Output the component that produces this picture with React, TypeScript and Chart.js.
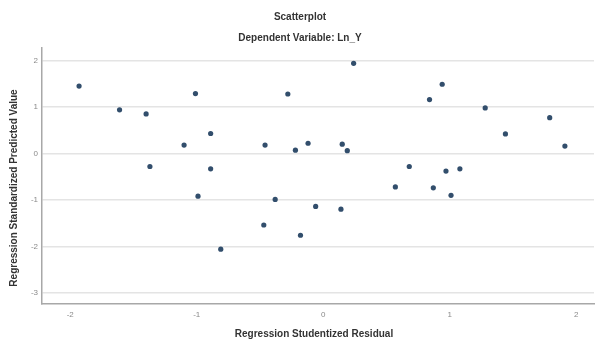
import React, { useEffect, useRef } from "react";
import { Chart, registerables } from "chart.js";

Chart.register(...registerables);

const chartTitle = "Scatterplot";
const chartSubtitle = "Dependent Variable: Ln_Y";
const xAxisTitle = "Regression Studentized Residual";
const yAxisTitle = "Regression Standardized Predicted Value";

const xTicks = [-2, -1, 0, 1, 2];
const yTicks = [-3, -2, -1, 0, 1, 2];

const residuals = [
  -1.93, -1.61, -1.4, -1.37, -1.1, -1.01, -0.99, -0.89, -0.89, -0.81,
  -0.47, -0.46, -0.38, -0.28, -0.22, -0.18, -0.12, -0.06, 0.14, 0.15,
  0.19, 0.24, 0.57, 0.68, 0.84, 0.87, 0.94, 0.97, 1.01, 1.08,
  1.28, 1.44, 1.79, 1.91,
];
const predicted = [
  1.45, 0.94, 0.85, -0.28, 0.18, 1.29, -0.92, 0.43, -0.33, -2.06,
  -1.54, 0.18, -0.99, 1.28, 0.07, -1.76, 0.22, -1.14, -1.2, 0.2,
  0.06, 1.94, -0.72, -0.28, 1.16, -0.74, 1.49, -0.38, -0.9, -0.33,
  0.98, 0.42, 0.77, 0.16,
];

const FONT = "'Liberation Sans', Arial, sans-serif";

const titlesPlugin = {
  id: "spssTitles",
  afterDraw(chart: any) {
    const ctx = chart.ctx;
    ctx.save();
    ctx.fillStyle = "#333333";
    ctx.textAlign = "center";
    ctx.textBaseline = "middle";
    ctx.font = `bold 10px ${FONT}`;
    ctx.fillText(chartTitle, 300, 17);
    ctx.fillText(chartSubtitle, 300, 38);
    ctx.fillText(xAxisTitle, 314, 334);
    ctx.translate(14, 188);
    ctx.rotate(-Math.PI / 2);
    ctx.fillText(yAxisTitle, 0, 0);
    ctx.restore();
  },
};

export default function App() {
  const ref = useRef<HTMLCanvasElement>(null);
  useEffect(() => {
    if (!ref.current) return;
    const points = residuals.map((x, i) => ({ x, y: predicted[i] }));
    const chart = new Chart(ref.current, {
      type: "scatter",
      data: {
        datasets: [
          {
            data: points,
            backgroundColor: "#324e6c",
            borderColor: "#324e6c",
            pointRadius: 2.6,
            borderWidth: 0,
          },
        ],
      },
      options: {
        animation: false,
        responsive: false,
        devicePixelRatio: 1,
        layout: { padding: { top: 48, right: 1, left: 0, bottom: 0 } },
        plugins: {
          legend: { display: false },
          tooltip: { enabled: false },
          title: { display: false },
        },
        scales: {
          x: {
            type: "linear",
            min: -2.223,
            max: 2.14,
            afterBuildTicks: (scale: any) => {
              scale.ticks = xTicks.map((v) => ({ value: v }));
            },
            afterFit: (scale: any) => {
              scale.height = 36;
            },
            grid: { display: false, drawTicks: false },
            border: { display: true, color: "#a8a8a8", width: 1.5 },
            ticks: {
              padding: 6,
              color: "#8a8a8a",
              font: { family: FONT, size: 8 },
              maxRotation: 0,
            },
          },
          y: {
            type: "linear",
            min: -3.24,
            max: 2.27,
            afterBuildTicks: (scale: any) => {
              scale.ticks = yTicks.map((v) => ({ value: v }));
            },
            afterFit: (scale: any) => {
              scale.width = 42;
            },
            grid: { color: "#e4e4e4", lineWidth: 1.5, drawTicks: false },
            border: { display: true, color: "#a8a8a8", width: 1.5 },
            ticks: {
              padding: 4,
              color: "#8a8a8a",
              font: { family: FONT, size: 8 },
            },
          },
        },
      },
      plugins: [titlesPlugin],
    });
    return () => chart.destroy();
  }, []);
  return (
    <div style={{ position: "absolute", left: 0, top: 0, width: 598, height: 340, background: "#fff" }}>
      <canvas ref={ref} width={598} height={340} style={{ display: "block" }} />
    </div>
  );
}
